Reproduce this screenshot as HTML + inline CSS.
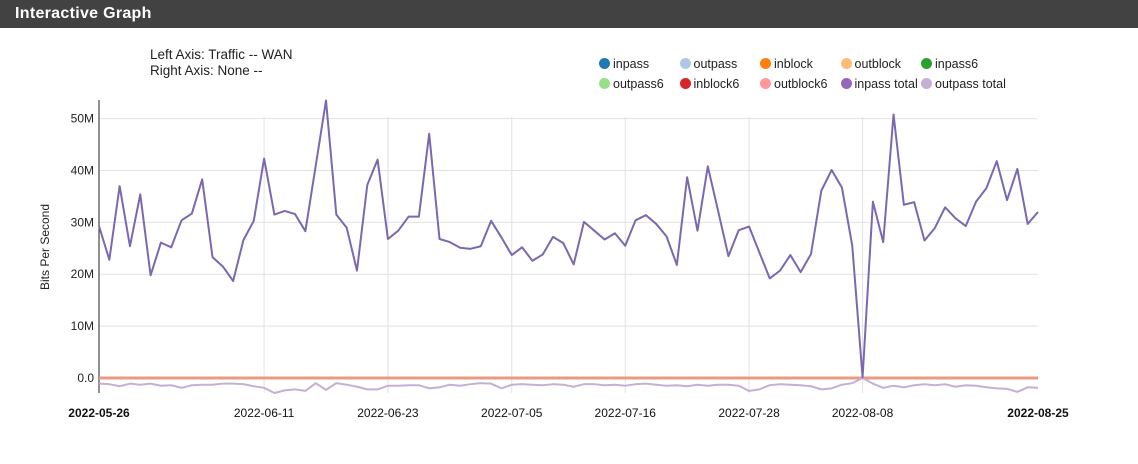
<!DOCTYPE html>
<html><head><meta charset="utf-8">
<style>
body{margin:0;width:1138px;height:464px;background:#fff;font-family:"Liberation Sans",sans-serif;overflow:hidden;position:relative}
.hdr{position:absolute;left:0;top:0;width:1138px;height:28px;background:#424242;color:#fff;font-weight:bold;font-size:16px;line-height:28px;padding-left:15px;box-sizing:border-box;letter-spacing:0.3px}
.axinfo{position:absolute;left:150px;top:47px;font-size:13.5px;color:#222;line-height:16px}
.leg{position:absolute;font-size:12.5px;color:#222}
.leg span.d{display:inline-block;width:11px;height:11px;border-radius:50%;vertical-align:-1px;margin-right:3px}
</style></head><body>
<div class="hdr">Interactive Graph</div>
<div class="axinfo">Left Axis: Traffic -- WAN<br>Right Axis: None --</div>
<div id="legend"></div>
<svg id="chart" width="1138" height="464" style="position:absolute;left:0;top:0"></svg>
<script>
const legendNames=["inpass","outpass","inblock","outblock","inpass6","outpass6","inblock6","outblock6","inpass total","outpass total"];
const legendColors=["#1f77b4","#aec7e8","#ff7f0e","#ffbb78","#2ca02c","#98df8a","#d62728","#ff9896","#9467bd","#c5b0d5"];
const startDate="2022-05-26";
const xTickLabels=["2022-05-26","2022-06-11","2022-06-23","2022-07-05","2022-07-16","2022-07-28","2022-08-08","2022-08-25"];
const xTickDays=[0,16,28,40,51,63,74,91];
const yTicks=[0,10,20,30,40,50];
const yTickLabels=["0.0","10M","20M","30M","40M","50M"];
const inpassTotal=[29.3,22.8,37,25.4,35.4,19.8,26.1,25.2,30.4,31.7,38.3,23.3,21.5,18.7,26.6,30.3,42.3,31.5,32.2,31.6,28.3,40.9,53.5,31.5,29,20.7,37.2,42.1,26.8,28.4,31.1,31.1,47.1,26.8,26.2,25.1,24.9,25.4,30.3,27.1,23.7,25.2,22.6,23.8,27.2,26,21.9,30.1,28.4,26.7,27.9,25.5,30.4,31.4,29.7,27.3,21.8,38.7,28.4,40.8,32.2,23.5,28.5,29.2,24.2,19.2,20.7,23.7,20.4,23.9,36.1,40.1,36.7,25.5,0.1,34,26.2,50.8,33.4,33.9,26.5,28.9,32.9,30.8,29.3,34,36.6,41.8,34.3,40.3,29.7,32];
const outpassTotal=[-1.1,-1.2,-1.6,-1.1,-1.3,-1.1,-1.5,-1.4,-1.9,-1.4,-1.3,-1.3,-1.1,-1.1,-1.2,-1.6,-1.9,-2.9,-2.4,-2.2,-2.5,-1.0,-2.3,-1.0,-1.3,-1.7,-2.2,-2.2,-1.5,-1.5,-1.4,-1.4,-2.0,-1.8,-1.3,-1.5,-1.2,-1.0,-1.1,-2.0,-1.3,-1.2,-1.3,-1.4,-1.2,-1.3,-1.7,-1.2,-1.2,-1.4,-1.3,-1.5,-1.2,-1.1,-1.3,-1.5,-1.4,-1.6,-1.3,-1.5,-1.3,-1.3,-1.5,-2.5,-2.2,-1.4,-1.2,-1.3,-1.4,-1.6,-2.2,-2.0,-1.3,-1.0,0,-1.1,-1.9,-1.5,-1.8,-1.4,-1.2,-1.4,-1.2,-1.7,-1.4,-1.5,-1.8,-2.0,-2.1,-2.7,-1.8,-1.9];
const zeroSeries=inpassTotal.map(()=>0);

const X0=99,X1=1038,YMIN=-2.9,YMAX=53.6,YTOP=100,YBOT=393;
const nDays=91;
function xs(i){return X0+(X1-X0)*i/nDays;}
function ys(v){return YBOT-(v-YMIN)/(YMAX-YMIN)*(YBOT-YTOP);}
const NS="http://www.w3.org/2000/svg";
const svg=document.getElementById('chart');
function mk(t,a){const e=document.createElementNS(NS,t);for(const k in a)e.setAttribute(k,a[k]);svg.appendChild(e);return e;}

// legend
const lg=document.getElementById('legend');
legendNames.forEach((n,i)=>{
  const d=document.createElement('div');d.className='leg';
  d.style.left=(599+(i%5)*80.5)+'px';d.style.top=(i<5?57:77)+'px';
  d.innerHTML='<span class="d" style="background:'+legendColors[i]+'"></span>'+n;
  
  
  lg.appendChild(d);
});

// grid
yTicks.forEach((v,i)=>{
  const l=mk('line',{x1:X0,x2:X1,y1:ys(v),y2:ys(v),stroke:'#e2e2e2','stroke-width':1});
  
  
  const t=mk('text',{x:X0-5,y:ys(v)+4,'text-anchor':'end','font-size':12,fill:'#222'});
  t.textContent=yTickLabels[i];
  
  
});
xTickDays.forEach((d,i)=>{
  if(i>0&&i<xTickDays.length-1){
    const l=mk('line',{x1:xs(d),x2:xs(d),y1:YTOP+17,y2:YBOT,stroke:'#e2e2e2','stroke-width':1});
    
    
  }
  const edge=(i==0||i==xTickDays.length-1);
  const t=mk('text',{x:xs(d),y:417,'text-anchor':'middle','font-size':12,fill:'#111','font-weight':edge?'bold':'normal'});
  t.textContent=xTickLabels[i];
  
  
});
const ax=mk('line',{x1:X0,x2:X0,y1:YTOP,y2:YBOT,stroke:'#222','stroke-width':1});


const yt=mk('text',{x:0,y:0,transform:'translate(49,247) rotate(-90)','text-anchor':'middle','font-size':12,fill:'#222'});
yt.textContent='Bits Per Second';



function line(data,color,w,name){
  const p=mk('polyline',{points:data.map((v,i)=>xs(i)+','+ys(v)).join(' '),fill:'none',stroke:color,'stroke-width':w,'stroke-linejoin':'round'});
  
  
}
line(zeroSeries,'#e89b80',3,'zero-series-line');
line(outpassTotal,'#c5b0d5',2,'outpass-total-line');
line(inpassTotal,'#7b68b0',2,'inpass-total-line');
</script>
</body></html>
